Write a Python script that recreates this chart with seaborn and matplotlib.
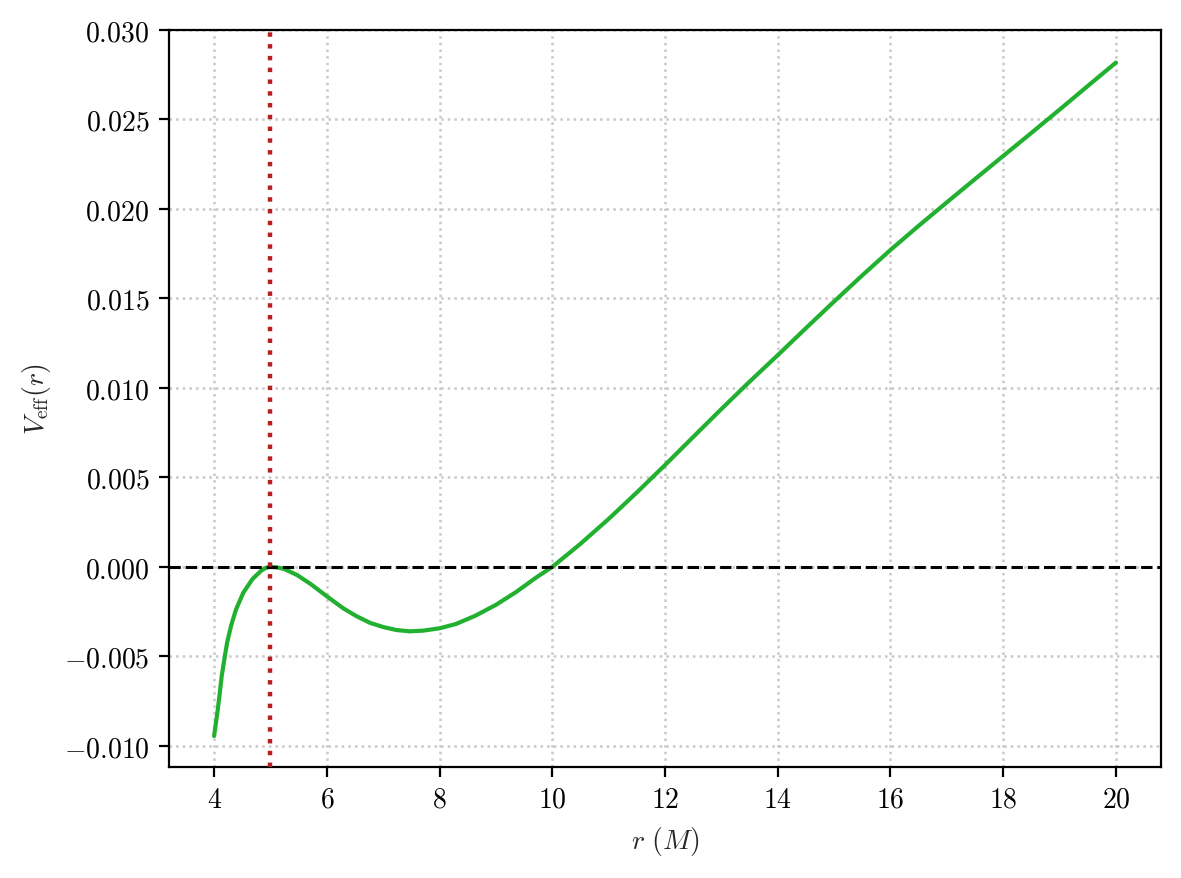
import numpy as np
import pandas as pd
import matplotlib
matplotlib.use("Agg")
import matplotlib.pyplot as plt
import seaborn as sns

# values
r_vals = [4.0, 4.064, 4.10, 4.135, 4.19, 4.23, 4.30, 4.39, 4.52, 4.68, 4.84,
          4.92, 5.0, 5.12, 5.24, 5.47, 5.71, 6.0, 6.29, 6.53, 6.77, 7.0,
          7.24, 7.47, 7.71, 8.0, 8.29, 8.64, 9.0, 9.35, 9.72, 10.0, 10.5,
          11.0, 11.5, 12.0, 12.5, 13.0, 13.5, 14.0, 14.5, 15.0, 15.5, 16.0,
          16.5, 17.0, 17.5, 18.0, 18.5, 19.0, 19.5, 20.0]
v_eff = [-0.00945, -0.0080, -0.00707, -0.0061, -0.0050, -0.00425, -0.0033,
         -0.00237, -0.00143, -0.00068, -0.0002, -0.00005, 0.0, -0.00003,
         -0.00011, -0.00045, -0.00095, -0.00164, -0.00231, -0.00276,
         -0.00313, -0.00336, -0.00353, -0.00360, -0.00356, -0.00343,
         -0.00319, -0.00272, -0.00212, -0.00142, -0.00058, 0.0, 0.00129,
         0.00268, 0.00416, 0.00569, 0.00726, 0.00882, 0.01035, 0.01183,
         0.01334, 0.01483, 0.01629, 0.01771, 0.01906, 0.02037, 0.02167,
         0.02296, 0.02425, 0.02555, 0.02687, 0.02818]

r_marker = 5.0      # red dotted vertical line
x_ticks = [4, 6, 8, 10, 12, 14, 16, 18, 20]
y_ticks = [-0.010, -0.005, 0.000, 0.005, 0.010, 0.015, 0.020, 0.025, 0.030]

df = pd.DataFrame({"r": r_vals, "V": v_eff})

sns.set_style("ticks")
plt.rcParams["font.family"] = "serif"
plt.rcParams["font.serif"] = ["cmr10"]
plt.rcParams["mathtext.fontset"] = "cm"
plt.rcParams["axes.formatter.use_mathtext"] = True
plt.rcParams["axes.unicode_minus"] = True
plt.rcParams["font.size"] = 10
plt.rcParams["xtick.direction"] = "out"
plt.rcParams["ytick.direction"] = "out"

fig = plt.figure(figsize=(1181 / 200, 879 / 200), dpi=200)
ax = fig.add_axes([169 / 1181, 1 - 768 / 879, (1161 - 169) / 1181, (768 - 31) / 879])

sns.lineplot(data=df, x="r", y="V", ax=ax, color="#22b030", lw=1.5, zorder=3)
ax.axhline(0, color="black", ls="--", lw=1.1, zorder=4)
ax.axvline(r_marker, color="#b82020", ls=":", lw=1.6, zorder=5)

ax.set_xlim(3.2, 20.8)
ax.set_ylim(-0.01118, 0.0300)
ax.set_xticks(x_ticks)
ax.set_yticks(y_ticks)
ax.grid(True, ls=":", color="#c8c8c8", lw=0.9, zorder=0)

for s in ax.spines.values():
    s.set_color("black")
    s.set_linewidth(0.8)
ax.tick_params(colors="black", length=3.5, width=0.8, labelsize=10)

ax.set_xlabel(r"$r\ (M)$", fontsize=10)
ax.set_ylabel(r"$V_{\rm eff}(r)$", fontsize=10)

fig.savefig("out.png", dpi=200)
